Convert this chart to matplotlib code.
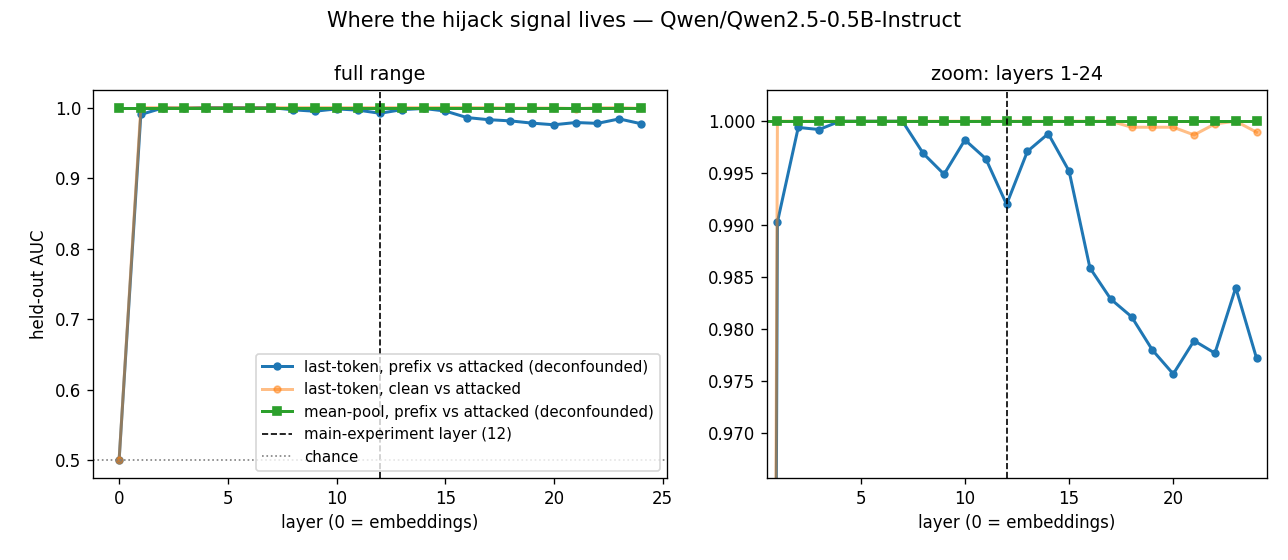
import numpy as np
import matplotlib
matplotlib.use("Agg")
import matplotlib.pyplot as plt

layers = list(range(25))

# last-token, prefix vs attacked (deconfounded)
auc_last_prefix = [0.5, 0.9903, 0.9994, 0.9992, 1.0, 1.0, 1.0, 1.0, 0.9969, 0.9949,
                   0.9982, 0.9964, 0.9920, 0.9971, 0.9988, 0.9952, 0.9859, 0.9829,
                   0.9812, 0.9780, 0.9757, 0.9789, 0.9777, 0.9840, 0.9772]
# last-token, clean vs attacked
auc_last_clean = [0.5, 1.0, 1.0, 1.0, 1.0, 1.0, 1.0, 1.0, 1.0, 1.0,
                  1.0, 1.0, 1.0, 1.0, 1.0, 1.0, 1.0, 1.0,
                  0.99942, 0.99942, 0.99942, 0.99868, 0.99974, 1.0, 0.99894]
# mean-pool, prefix vs attacked (deconfounded)
auc_meanpool = [1.0] * 25

main_layer = 12
model_name = "Qwen/Qwen2.5-0.5B-Instruct"

fig = plt.figure(figsize=(1288 / 120, 560 / 120), dpi=120)
ax1 = fig.add_axes([0.0722, 0.1464, 0.4457, 0.6929])
ax2 = fig.add_axes([0.5955, 0.1464, 0.3882, 0.6929])

for ax in (ax1, ax2):
    ax.plot(layers, auc_last_prefix, "o-", color="tab:blue", ms=4, lw=1.8,
            label="last-token, prefix vs attacked (deconfounded)")
    ax.plot(layers, auc_last_clean, "o-", color="tab:orange", ms=4, lw=1.8, alpha=0.5,
            label="last-token, clean vs attacked")
    ax.plot(layers, auc_meanpool, "s-", color="tab:green", ms=4.5, lw=1.8,
            label="mean-pool, prefix vs attacked (deconfounded)")
    ax.axvline(main_layer, color="k", ls="--", lw=1,
               label="main-experiment layer (%d)" % main_layer)
    ax.set_xlabel("layer (0 = embeddings)")

ax1.axhline(0.5, color="gray", ls=":", lw=1, label="chance")
ax1.set_title("full range", fontsize=11.5)
ax1.set_ylabel("held-out AUC")
ax1.legend(loc="lower right", fontsize=9)

ax2.set_title("zoom: layers 1-24", fontsize=11.5)
ax2.set_xlim(0.5, 24.5)
ax2.set_ylim(min(auc_last_prefix[1:]) - 0.01, 1.003)

fig.suptitle("Where the hijack signal lives \u2014 " + model_name, fontsize=12.5)
fig.savefig("out.png", dpi=120)
